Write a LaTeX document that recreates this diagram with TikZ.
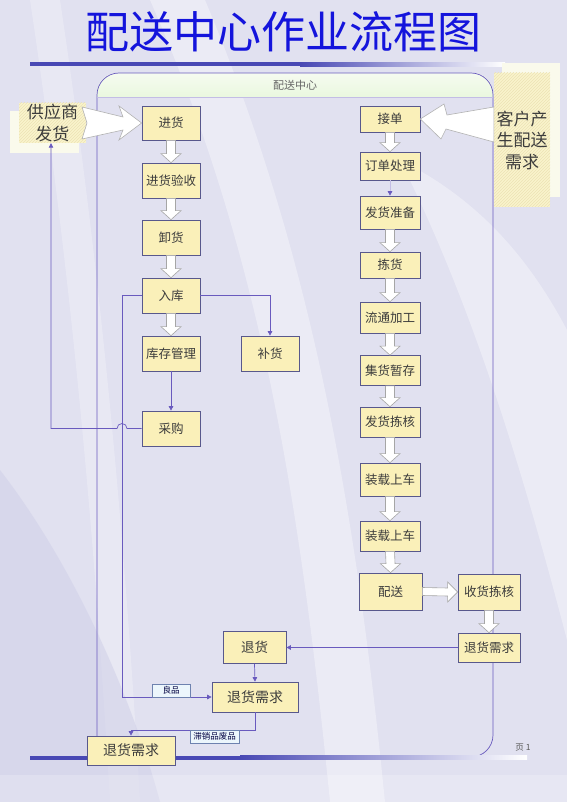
\documentclass[tikz,border=0pt]{standalone}
\usepackage{fontspec}
\newfontfamily\cjk{Noto Sans CJK SC}
\usetikzlibrary{arrows.meta,calc,patterns}

\definecolor{bg}{RGB}{225,225,240}
\definecolor{bgdark}{RGB}{208,208,232}
\definecolor{boxfill}{RGB}{250,240,185}
\definecolor{boxline}{RGB}{88,88,140}
\definecolor{conn}{RGB}{105,90,190}
\definecolor{titleblue}{RGB}{20,20,220}
\definecolor{hatchfill}{RGB}{250,244,205}
\definecolor{hatchline}{RGB}{236,226,180}
\definecolor{shadowfill}{RGB}{250,250,236}
\definecolor{labelfill}{RGB}{236,246,252}
\definecolor{labelline}{RGB}{110,130,175}
\definecolor{txt}{RGB}{60,60,60}
\definecolor{lineblue}{RGB}{72,72,180}
\definecolor{bandtop}{RGB}{246,251,240}
\definecolor{bandbot}{RGB}{212,242,192}

\tikzset{
  bx/.style 2 args={draw=boxline, fill=boxfill, line width=0.7pt,
    minimum width=#1, minimum height=#2, inner sep=0pt,
    font=\cjk\fontsize{12.5}{13}\selectfont, text=txt},
  hatchbox/.style={preaction={fill=hatchfill}, pattern=north east lines,
    pattern color=hatchline, inner sep=0pt, align=center,
    font=\cjk\fontsize{17}{21.5}\selectfont, text=txt},
  tag/.style={draw=labelline, fill=labelfill, line width=0.5pt, inner sep=0pt,
    minimum height=13pt, font=\cjk\fontsize{8.5}{9}\selectfont, text=black!75!blue},
  conn/.style={draw=conn, line width=0.7pt, -{Triangle[length=4.5pt,width=4.5pt]}},
  blk/.style={draw=black!35, fill=white, line width=0.6pt, line join=miter},
  bigarrow/.style={draw=black!30, fill=white, line width=0.6pt}
}

\newcommand{\blkdown}[2]{%
  \draw[blk] ($(#1.south)+(-4.5,0)$) -- ($(#2.north)+(-4.5,-9)$) -- ($(#2.north)+(-10,-9)$)
    -- (#2.north) -- ($(#2.north)+(10,-9)$) -- ($(#2.north)+(4.5,-9)$) -- ($(#1.south)+(4.5,0)$) -- cycle;}
\newcommand{\blkright}[2]{%
  \draw[blk] ($(#1.east)+(0,-4)$) -- ($(#2.west)+(-10,-4)$) -- ($(#2.west)+(-10,-10)$)
    -- (#2.west) -- ($(#2.west)+(-10,10)$) -- ($(#2.west)+(-10,4)$) -- ($(#1.east)+(0,4)$) -- cycle;}

\begin{document}
\begin{tikzpicture}[x=1pt,y=-1pt]
\useasboundingbox (0,0) rectangle (567,802);
% background
\fill[bg] (0,0) rectangle (567,802);
\fill[white,opacity=0.35] (150,0) .. controls (260,250) and (300,500) .. (330,802) -- (385,802) .. controls (355,500) and (310,250) .. (205,0) -- cycle;
\fill[white,opacity=0.35] (400,160) .. controls (470,300) and (520,460) .. (567,640) -- (567,330) .. controls (530,260) and (480,200) .. (400,160) -- cycle;
\fill[white,opacity=0.25] (30,0) .. controls (60,200) and (90,450) .. (110,802) -- (140,802) .. controls (120,450) and (90,200) .. (60,0) -- cycle;
\fill[bgdark,opacity=0.55] (0,470) .. controls (70,560) and (130,690) .. (160,802) -- (0,802) -- cycle;
\fill[white,opacity=0.2] (0,775) rectangle (567,802);

% title
\node[font=\cjk\fontsize{44}{48}\selectfont, text=titleblue] (title) at (283,32) {配送中心作业流程图};
\fill[lineblue] (30,62.5) rectangle (300,66.5);
\shade[left color=lineblue, right color=white] (300,62.5) rectangle (505,66.5);

% container
\begin{scope}
  \clip (0,73) rectangle (567,97);
  \shade[top color=bandtop, bottom color=bandbot, rounded corners=20] (97,73) rectangle (493,140);
\end{scope}
\draw[conn, -, rounded corners=22] (97,745) -- (97,73) -- (493,73) -- (493,757) -- (430,757);
\draw[conn, -, draw=conn!40] (97,97) -- (493,97);
\node[font=\cjk\fontsize{11}{12}\selectfont, text=black!60] (hdr) at (295,85) {配送中心};

% bottom line
\fill[lineblue] (30,755.5) rectangle (240,759.5);
\shade[left color=lineblue, right color=white] (240,755.5) rectangle (527,759.5);
\node[font=\cjk\fontsize{8.5}{9}\selectfont, text=black!65] (page) at (523,748) {页 1};

% outside boxes
\fill[shadowfill] (10,111) rectangle (79,153);
\node[hatchbox, minimum width=67pt, minimum height=40pt] (sup) at (52.5,123) {供应商\\发货};
\fill[shadowfill] (502,63) rectangle (560,197);
\node[hatchbox, minimum width=56pt, minimum height=134pt] (cus) at (522,140) {客户产\\生配送\\需求};

% left column
\node[bx={58pt}{34pt}] (jh) at (171,123) {进货};
\node[bx={58pt}{35pt}] (jhys) at (171,180.5) {进货验收};
\node[bx={58pt}{35pt}] (xh) at (171,237.5) {卸货};
\node[bx={58pt}{35pt}] (rk) at (171,295.5) {入库};
\node[bx={58pt}{35pt}] (kcgl) at (171,353.5) {库存管理};
\node[bx={58pt}{35pt}] (cg) at (171,428.5) {采购};
\node[bx={58pt}{35pt}] (bh) at (270,353.5) {补货};

% right column
\node[bx={60pt}{26pt}] (jd) at (390,119) {接单};
\node[bx={60pt}{28pt}] (ddcl) at (390,166) {订单处理};
\node[bx={60pt}{33pt}] (fhzb) at (390,212.5) {发货准备};
\node[bx={60pt}{26pt}] (jhuo) at (390,265) {拣货};
\node[bx={60pt}{31pt}] (ltjg) at (390,317.5) {流通加工};
\node[bx={60pt}{30pt}] (jhzc) at (390,370.5) {集货暂存};
\node[bx={60pt}{30pt}] (fhjh) at (390,422) {发货拣核};
\node[bx={60pt}{33pt}] (zzsc) at (390,479.5) {装载上车};
\node[bx={60pt}{30pt}] (zzsc2) at (390,536) {装载上车};
\node[bx={63pt}{37pt}] (ps) at (390.5,591.5) {配送};
\node[bx={62pt}{36pt}] (shjh) at (489,592) {收货拣核};
\node[bx={62pt}{29pt}] (thxqR) at (489,647.5) {退货需求};

% return area
\node[bx={63pt}{32pt}, font=\cjk\fontsize{13.5}{14}\selectfont] (th) at (254.5,647.5) {退货};
\node[bx={86pt}{30pt}, font=\cjk\fontsize{14}{14}\selectfont] (thxqM) at (255,697) {退货需求};
\node[bx={88pt}{29pt}, font=\cjk\fontsize{14}{14}\selectfont] (thxqB) at (131,750.5) {退货需求};

% big hollow arrows
\draw[bigarrow] (82,107) -- (123,117) -- (119,106) -- (jh.west) -- (119,140) -- (123,130) -- (82,139) -- (87,123) -- cycle;
\draw[bigarrow] (jd.east) -- (444,104) -- (447,115) -- (cus.west |- 0,107) -- (cus.west |- 0,142) -- (446,129) -- (441,139) -- cycle;

% block arrows
\blkdown{jh}{jhys}
\blkdown{jhys}{xh}
\blkdown{xh}{rk}
\blkdown{rk}{kcgl}
\blkdown{jd}{ddcl}
\blkdown{fhzb}{jhuo}
\blkdown{jhuo}{ltjg}
\blkdown{ltjg}{jhzc}
\blkdown{jhzc}{fhjh}
\blkdown{fhjh}{zzsc}
\blkdown{zzsc}{zzsc2}
\blkdown{zzsc2}{ps}
\blkdown{shjh}{thxqR}
\blkright{ps}{shjh}

% thin connectors
\draw[draw=conn!40, line width=0.7pt, -{Triangle[length=4.5pt,width=4.5pt,color=conn,fill=conn]}] (ddcl.south) -- (fhzb.north);
\draw[conn] (rk.east) -| (bh.north);
\draw[conn] (kcgl.south) -- (cg.north);
\draw[conn] (cg.west) -- (127,428.5) arc (0:-180:5) -- (51,428.5) -- (sup.south -| 51,0);
\draw[conn] (rk.west) -- (122,295.5) -- (122,697) -- (thxqM.west);
\draw[conn] (thxqR.west) -- (th.east);
\draw[conn] (th.south) -- (thxqM.north);
\draw[conn] (thxqM.south) -- (255,730) -- (131,730) -- (thxqB.north);

% tags
\node[tag, minimum width=38pt, anchor=south] (lp) at (171,697) {良品};
\node[tag, minimum width=49pt, anchor=north] (zx) at (214.5,730) {滞销品废品};
\end{tikzpicture}
\end{document}
